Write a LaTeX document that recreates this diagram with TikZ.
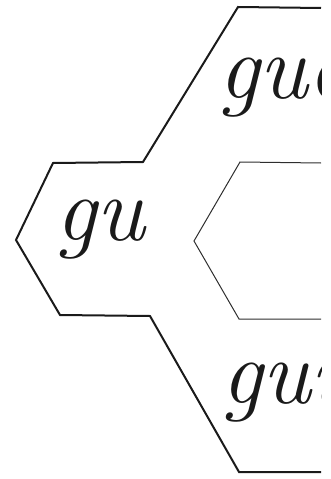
\documentclass[tikz,border=0pt]{standalone}
\usepackage{xcolor}
\usetikzlibrary{positioning}
\definecolor{InkDark}{HTML}{1A1A1A}
\definecolor{InkSoft}{HTML}{2E2E2E}
\tikzset{
  outerline/.style={line width=2pt, InkDark, line join=miter},
  innerline/.style={line width=1pt, InkSoft},
  cursive/.style={inner sep=0pt, anchor=base west, InkDark,
    font=\itshape\fontsize{92}{92}\selectfont}
}

\begin{document}
\begin{tikzpicture}[x=1pt, y=-1pt]
\useasboundingbox (0,0) rectangle (330,479);

% --- OUTER OUTLINE (gu and its two branches) ---
\draw[outerline] (321,8) -- (238,7) -- (143,162) -- (53,163) -- (16,240)
    -- (60,315) -- (150,316) -- (239,472) -- (321,472);

% --- INNER HEXAGON (thin) ---
\draw[innerline] (321,163) -- (240,162) -- (194,241) -- (239,319) -- (321,319);

% --- SYLLABLES ---
\begin{scope}
    \clip (0,0) rectangle (321,479);
    \node[cursive] (gu)  at (55,240)  {gu};
    \node[cursive] (gue) at (218,98)  {gue};
    \node[cursive] (gui) at (221,403) {gui};
\end{scope}

\end{tikzpicture}
\end{document}
